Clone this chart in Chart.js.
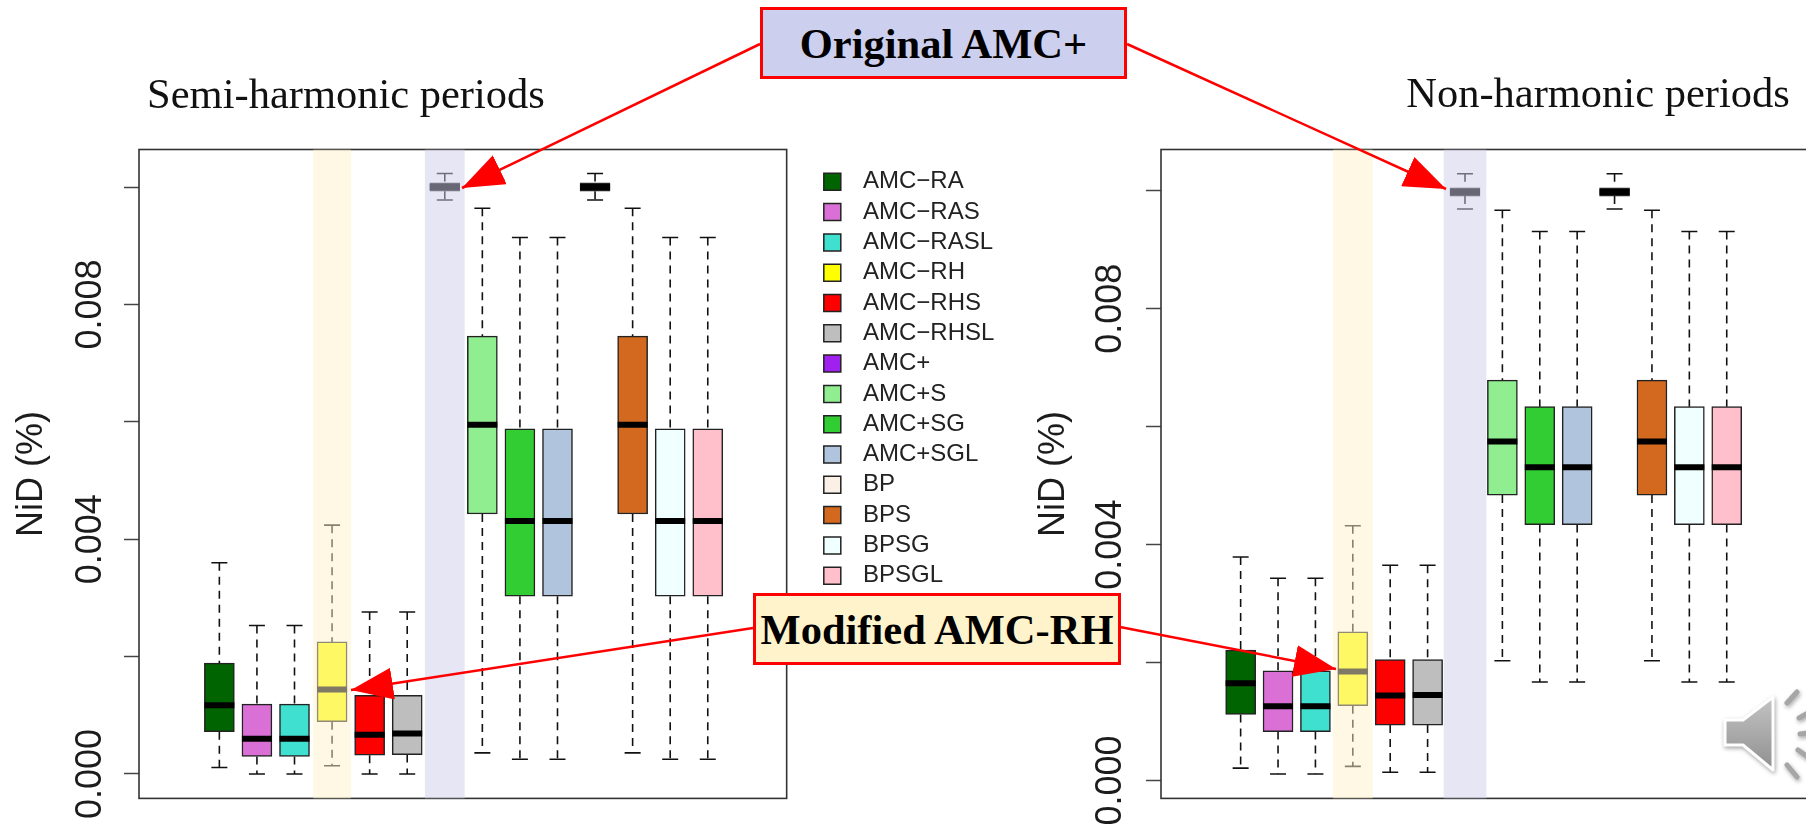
<!DOCTYPE html>
<html lang="en">
<head>
<meta charset="UTF-8">
<title>NiD boxplots</title>
<script src="https://cdn.jsdelivr.net/npm/chart.js@4"></script>
<style>
    html, body { margin: 0; padding: 0; background: #fff; }
    #page { position: relative; width: 1806px; height: 825px; overflow: hidden; background: #fff; }
    canvas { position: absolute; top: 0; }
    #arrows { position: absolute; left: 0; top: 0; }
    .title { position: absolute; font: 42.5px "Liberation Serif", serif; color: #111; white-space: nowrap; transform: translate(-50%, -50%); }
    .callout { position: absolute; box-sizing: border-box; border: 3px solid #f00; font: bold 42.5px "Liberation Serif", serif; color: #000;
               display: flex; align-items: center; justify-content: center; white-space: nowrap; }
</style>
</head>
<body>
<div id="page">
    <canvas id="semiChart" width="1030" height="825" style="left:0"></canvas>
    <canvas id="nonChart" width="798" height="825" style="left:1032px"></canvas>
    <div class="title" style="left:346px;top:93px">Semi-harmonic periods</div>
    <div class="title" style="left:1598px;top:92px">Non-harmonic periods</div>
    <svg id="arrows" width="1806" height="825">
        <defs>
            <marker id="head" markerUnits="userSpaceOnUse" markerWidth="44" markerHeight="32" refX="42" refY="16" orient="auto">
                <path d="M0,0 L42,16 L0,32 Z" fill="#f00"/>
            </marker>
            <linearGradient id="spk" x1="0" y1="0" x2="0" y2="1">
                <stop offset="0" stop-color="#c4c4c4"/>
                <stop offset="1" stop-color="#8f8f8f"/>
            </linearGradient>
        </defs>
        <g stroke="#f00" stroke-width="2.5" marker-end="url(#head)">
            <line x1="760" y1="44" x2="462" y2="188"/>
            <line x1="1127" y1="44" x2="1446" y2="189"/>
            <line x1="753" y1="628" x2="351" y2="690"/>
            <line x1="1120" y1="627" x2="1336" y2="669"/>
        </g>
        <g style="filter:drop-shadow(1px 2px 2px rgba(0,0,0,.35))">
            <path d="M1725,720 L1743,720 L1773,697 L1773,770 L1743,745 L1725,745 Z" fill="url(#spk)" stroke="#fff" stroke-width="3" stroke-linejoin="round"/>
            <g stroke="#a6a6a6" stroke-width="5" stroke-linecap="round">
                <line x1="1787" y1="703" x2="1797" y2="692"/>
                <line x1="1799" y1="718" x2="1808" y2="713"/>
                <line x1="1800" y1="734" x2="1808" y2="733"/>
                <line x1="1798" y1="750" x2="1808" y2="757"/>
                <line x1="1787" y1="765" x2="1797" y2="777"/>
            </g>
        </g>
    </svg>
    <div class="callout" style="left:760px;top:7px;width:367px;height:72px;background:#cdcfee">Original AMC+</div>
    <div class="callout" style="left:753px;top:593px;width:368px;height:72px;background:#fff3cc">Modified AMC-RH</div>
</div>

<script>
const categories = ['AMC\u2212RA', 'AMC\u2212RAS', 'AMC\u2212RASL', 'AMC\u2212RH', 'AMC\u2212RHS', 'AMC\u2212RHSL', 'AMC+',
                    'AMC+S', 'AMC+SG', 'AMC+SGL', 'BP', 'BPS', 'BPSG', 'BPSGL'];
const boxColors = ['#006400', '#da70d6', '#40e0d0', '#ffff00', '#ff0000', '#bebebe', '#a020f0',
                   '#90ee90', '#32cd32', '#b0c4de', '#faf0e6', '#d2691e', '#f0ffff', '#ffc0cb'];

// (semi-harmonic)
const semiHi  = [.00360, .00253, .00253, .00424, .00276, .00276, .01023, .00964, .00914, .00914, .01023, .00964, .00914, .00914];
const semiQ3  = [.00189, .00119, .00119, .00225, .00134, .00134, .01007, .00746, .00588, .00588, .01007, .00746, .00588, .00588];
const semiMed = [.00117, .00060, .00060, .00144, .00067, .00069, .01000, .00595, .00431, .00431, .01000, .00595, .00431, .00431];
const semiQ1  = [.00072, .00030, .00030, .00089, .00032, .00033, .00993, .00443, .00303, .00303, .00993, .00443, .00303, .00303];
const semiLo  = [.00011, .00000, .00000, .00014, .00000, .00000, .00978, .00036, .00025, .00025, .00978, .00036, .00025, .00025];

// (non-harmonic)
const nonHi  = [.00379, .00343, .00343, .00432, .00365, .00365, .01029, .00967, .00931, .00931, .01029, .00967, .00931, .00931];
const nonQ3  = [.00221, .00186, .00186, .00252, .00205, .00205, .01005, .00679, .00634, .00634, .01005, .00679, .00634, .00634];
const nonMed = [.00165, .00126, .00126, .00185, .00144, .00145, .00998, .00575, .00531, .00531, .00998, .00575, .00531, .00531];
const nonQ1  = [.00112, .00083, .00083, .00127, .00094, .00094, .00991, .00484, .00434, .00434, .00991, .00484, .00434, .00434];
const nonLo  = [.00021, .00011, .00011, .00024, .00014, .00014, .00969, .00203, .00167, .00167, .00969, .00203, .00167, .00167];

const yTickValues = [0, .002, .004, .006, .008, .010];
const yTickLabels = ['0.000', '', '0.004', '', '0.008', ''];

const AXIS_FONT = '"Liberation Sans", Arial, sans-serif';
const INK = '#1c1c1c';

// frame round the plot, under the highlight bands
const framePlugin = {
    id: 'frame',
    beforeDatasetsDraw(chart) {
        const a = chart.chartArea, ctx = chart.ctx;
        ctx.save();
        ctx.strokeStyle = '#333';
        ctx.lineWidth = 1.6;
        ctx.strokeRect(a.left, a.top, a.right - a.left, a.bottom - a.top);
        ctx.restore();
    }
};

// legend sits away from the plot, further than the layout leaves it
const legendShift = {
    id: 'legendShift',
    beforeDraw(chart) {
        const l = chart.legend;
        if (!l || !l.options.display) return;
        const dx = 814 - l.left, dy = 163.5 - l.top;
        l.left += dx; l.right += dx; l.top += dy; l.bottom += dy;
    }
};

function boxChart(id, hi, q3, med, q1, lo, cfg) {
    const datasets = [];
    categories.forEach(function (name, i) {
        datasets.push({
            type: 'bar', label: name, order: 4, grouped: false,
            data: [{ x: i + 1, y: [q1[i], q3[i]] }],
            barThickness: cfg.boxWidth,
            backgroundColor: boxColors[i], borderColor: '#222', borderWidth: 1.5, borderSkipped: false
        });
    });

    const whiskers = [], caps = [], medians = [];
    categories.forEach(function (name, i) {
        const x = i + 1;
        whiskers.push({ x: x, y: hi[i] }, { x: x, y: q3[i] }, { x: x, y: null },
                      { x: x, y: q1[i] }, { x: x, y: lo[i] }, { x: x, y: null });
        caps.push({ x: x, y: hi[i] }, { x: x, y: lo[i] });
        medians.push({ x: x, y: med[i] });
    });
    datasets.push({ type: 'scatter', order: 5, data: whiskers, showLine: true, pointRadius: 0,
                    borderColor: '#111', borderWidth: 1.6, borderDash: [8, 6] });
    datasets.push({ type: 'scatter', order: 2, data: caps, pointStyle: 'line', pointRadius: 8,
                    pointBorderColor: '#111', pointBorderWidth: 1.6 });
    datasets.push({ type: 'scatter', order: 3, data: medians, pointStyle: 'line', pointRadius: cfg.boxWidth / 2,
                    pointBorderColor: '#000', pointBorderWidth: 6 });

    // pale bands over the two methods the callouts point at
    cfg.bands.forEach(function (b) {
        datasets.push({ type: 'bar', order: 0, grouped: false,
                        data: [{ x: categories.indexOf(b.name) + 1, y: [cfg.yMin, cfg.yMax] }],
                        barThickness: b.width, backgroundColor: b.color, borderWidth: 0 });
    });

    return new Chart(document.getElementById(id), {
        type: 'bar',
        data: { datasets: datasets },
        plugins: [framePlugin, legendShift],
        options: {
            responsive: false,
            animation: false,
            events: [],
            layout: { padding: { top: 149.5, bottom: 26.6, left: 0, right: cfg.padRight } },
            plugins: {
                tooltip: { enabled: false },
                legend: {
                    display: cfg.legend,
                    position: 'right',
                    align: 'start',
                    labels: {
                        // the library keeps box and text tight, a leading space opens the gap
                        generateLabels: function (chart) {
                            return Chart.defaults.plugins.legend.labels.generateLabels(chart).map(function (item) {
                                item.text = '\u00a0' + item.text;
                                return item;
                            });
                        },
                        filter: function (item) { return item.datasetIndex < categories.length; },
                        usePointStyle: true, pointStyle: 'rect',
                        boxWidth: 39, boxHeight: 17, padding: 6.3,
                        color: '#222',
                        font: { family: AXIS_FONT, size: 24 }
                    }
                }
            },
            scales: {
                x: { type: 'linear', display: false, offset: false, min: cfg.xMin, max: cfg.xMax, grid: { display: false } },
                y: {
                    type: 'linear', min: cfg.yMin, max: cfg.yMax,
                    afterFit: function (s) { s.width = cfg.axisWidth; },
                    afterBuildTicks: function (s) { s.ticks = yTickValues.map(function (v) { return { value: v }; }); },
                    title: { display: true, text: 'NiD (%)', color: INK, padding: { top: cfg.titlePad, bottom: 0 },
                             font: { family: AXIS_FONT, size: 36 } },
                    border: { display: false },
                    grid: { drawOnChartArea: false, tickLength: 15, tickColor: '#444', tickWidth: 1.5 },
                    ticks: {
                        autoSkip: false, minRotation: 90, maxRotation: 90, crossAlign: 'center',
                        padding: cfg.tickPad, color: INK,
                        font: { family: AXIS_FONT, size: 36 },
                        callback: function (v) { return yTickLabels[yTickValues.indexOf(v)]; }
                    }
                }
            }
        }
    });
}

boxChart('semiChart', semiHi, semiQ3, semiMed, semiQ1, semiLo, {
    legend: true, boxWidth: 30, axisWidth: 139, titlePad: 10, tickPad: -12, padRight: 53,
    xMin: -1.139, xMax: 16.1, yMin: -0.000416, yMax: 0.01064,
    bands: [{ name: 'AMC\u2212RH', width: 37, color: 'rgba(253,241,201,0.5)' },
            { name: 'AMC+', width: 39, color: 'rgba(205,205,235,0.5)' }]
});

boxChart('nonChart', nonHi, nonQ3, nonMed, nonQ1, nonLo, {
    legend: false, boxWidth: 30, axisWidth: 129, titlePad: 0, tickPad: -10, padRight: 21,
    xMin: -1.13, xMax: 16.2, yMin: -0.000303, yMax: 0.0107,
    bands: [{ name: 'AMC\u2212RH', width: 39, color: 'rgba(253,241,201,0.5)' },
            { name: 'AMC+', width: 42, color: 'rgba(205,205,235,0.5)' }]
});
</script>
</body>
</html>
